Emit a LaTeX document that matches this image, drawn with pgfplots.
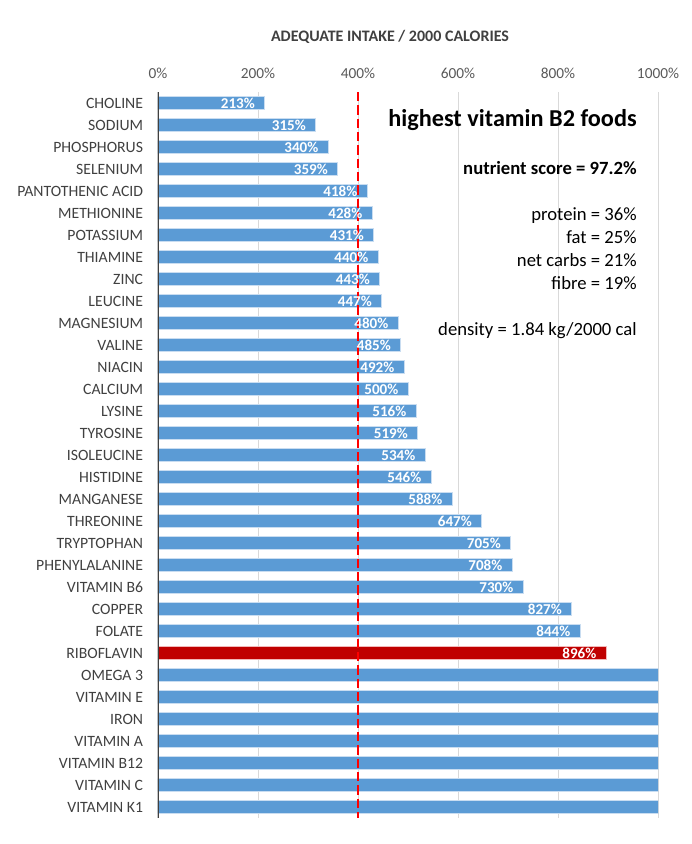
\documentclass[border=0pt]{standalone}
\usepackage{fontspec}
\setmainfont{Carlito}
\usepackage{pgfplots}
\pgfplotsset{compat=1.18}

\definecolor{barblue}{HTML}{5B9BD5}
\definecolor{baredge}{HTML}{C9DDF1}
\definecolor{barred}{HTML}{C00000}
\definecolor{rededge}{HTML}{F2B8B8}
\definecolor{gridgray}{HTML}{D9D9D9}
\definecolor{labgray}{HTML}{404040}
\definecolor{tickgray}{HTML}{595959}

\begin{document}
\begin{tikzpicture}[x=1pt,y=1pt]
\path[use as bounding box] (0,0) rectangle (519,-633);
\begin{axis}[
  at={(118.5pt,-69pt)}, anchor=north west,
  scale only axis, width=375pt, height=544.5pt,
  xmin=0, xmax=1000, ymin=-0.5, ymax=32.5,
  y dir=reverse,
  axis line style={draw=none},
  xtick={0,200,...,1000},
  xticklabel pos=upper,
  xticklabel={\pgfmathprintnumber[assume math mode=true,1000 sep={}]{\tick}\%},
  xticklabel style={font=\fontsize{11.5}{13}\selectfont, text=tickgray, anchor=base, yshift=10.5pt},
  ytick={0,...,32},
  yticklabels={CHOLINE,SODIUM,PHOSPHORUS,SELENIUM,PANTOTHENIC ACID,METHIONINE,POTASSIUM,THIAMINE,ZINC,LEUCINE,MAGNESIUM,VALINE,NIACIN,CALCIUM,LYSINE,TYROSINE,ISOLEUCINE,HISTIDINE,MANGANESE,THREONINE,TRYPTOPHAN,PHENYLALANINE,VITAMIN B6,COPPER,FOLATE,RIBOFLAVIN,OMEGA 3,VITAMIN E,IRON,VITAMIN A,VITAMIN B12,VITAMIN C,VITAMIN K1},
  yticklabel style={font=\fontsize{11.8}{13}\selectfont, text=labgray, anchor=east, inner sep=0pt, xshift=-11pt},
  major tick length=0pt,
  xmajorgrids, grid style={gridgray, line width=0.75pt},
  every node near coord/.append style={font=\bfseries\fontsize{11.3}{13}\selectfont, text=white, anchor=east, inner sep=0pt, xshift=-7pt},
]
\addplot[xbar, bar width=9.75pt, bar shift=0pt, fill=barblue, draw=baredge, line width=0.6pt,
  point meta=x, nodes near coords={\pgfmathprintnumber[assume math mode=true,fixed,precision=0]{\pgfplotspointmeta}\%}]
  coordinates {(213,0) (315,1) (340,2) (359,3) (418,4) (428,5) (431,6) (440,7) (443,8) (447,9)
               (480,10) (485,11) (492,12) (500,13) (516,14) (519,15) (534,16) (546,17) (588,18)
               (647,19) (705,20) (708,21) (730,22) (827,23) (844,24)};
\addplot[xbar, bar width=9.75pt, bar shift=0pt, fill=barred, draw=rededge, line width=0.6pt,
  point meta=x, nodes near coords={\pgfmathprintnumber[assume math mode=true,fixed,precision=0]{\pgfplotspointmeta}\%}]
  coordinates {(896,25)};
\addplot[xbar, bar width=9.75pt, bar shift=0pt, fill=barblue, draw=baredge, line width=0.6pt]
  coordinates {(1000,26) (1000,27) (1000,28) (1000,29) (1000,30) (1000,31) (1000,32)};
\draw[red, line width=1.5pt, dash pattern=on 7pt off 3pt] (axis cs:400,-0.5) -- (axis cs:400,32.5);
\draw[labgray, line width=1.6pt] (axis cs:0,-0.5) -- (axis cs:0,32.5);
\end{axis}
\node[anchor=base, font=\bfseries\fontsize{12}{14}\selectfont, text=labgray] at (292.5,-31) {ADEQUATE INTAKE / 2000 CALORIES};
\node[anchor=base east, font=\bfseries\fontsize{18.2}{20}\selectfont] at (481,-94.5) {highest vitamin B2 foods};
\node[anchor=base east, font=\bfseries\fontsize{14}{16}\selectfont] at (481,-131) {nutrient score = 97.2\%};
\node[anchor=base east, font=\fontsize{14}{16}\selectfont] at (481,-165.5) {protein = 36\%};
\node[anchor=base east, font=\fontsize{14}{16}\selectfont] at (481,-182.75) {fat = 25\%};
\node[anchor=base east, font=\fontsize{14}{16}\selectfont] at (481,-200) {net carbs = 21\%};
\node[anchor=base east, font=\fontsize{14}{16}\selectfont] at (481,-217.25) {fibre = 19\%};
\node[anchor=base east, font=\fontsize{14}{16}\selectfont] at (481,-251.75) {density = 1.84 kg/2000 cal};
\end{tikzpicture}
\end{document}
